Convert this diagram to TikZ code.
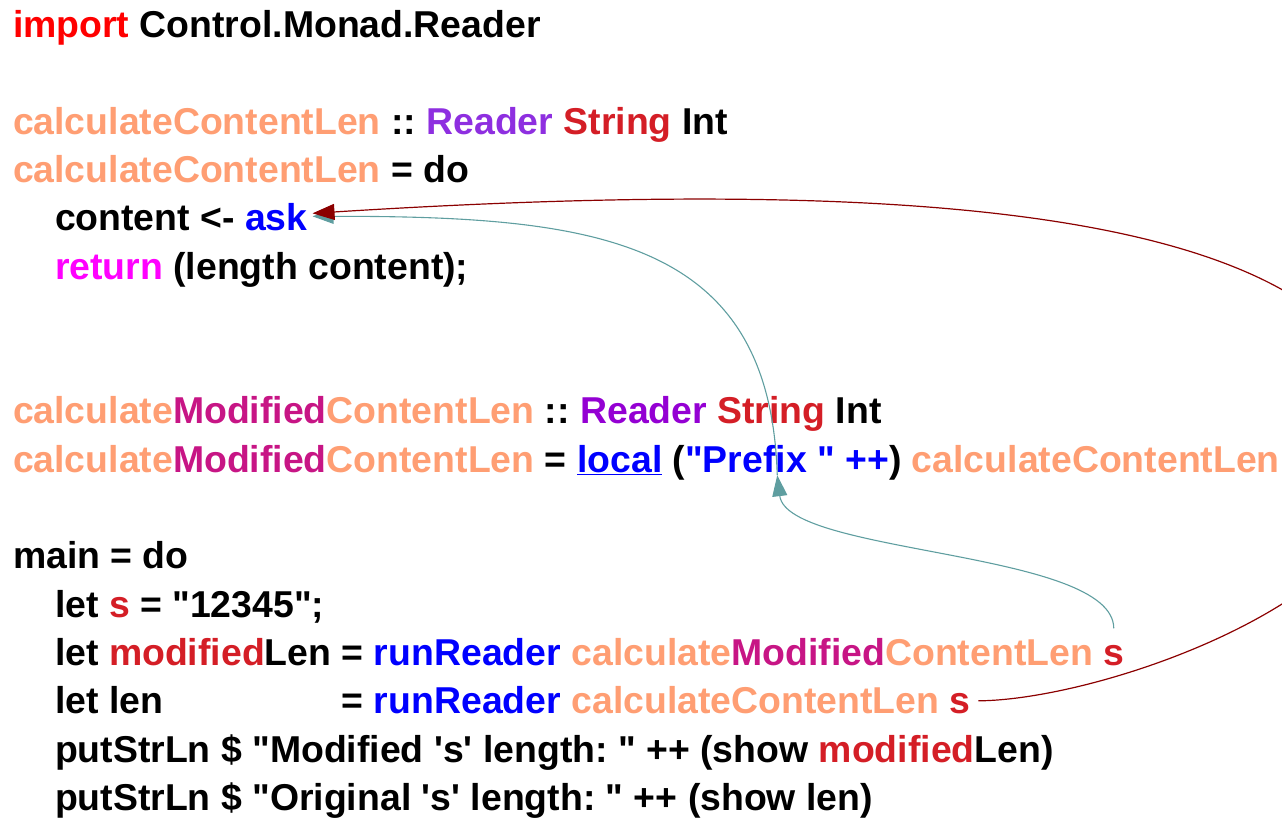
\documentclass[tikz,border=0pt]{standalone}
\usepackage{fontspec}
\setmainfont{Liberation Sans}[Ligatures=TeXOff]
\usetikzlibrary{arrows.meta,calc}
\definecolor{salmonc}{HTML}{FF9E73}
\definecolor{importred}{HTML}{FF0000}
\definecolor{readerA}{HTML}{8E2FE0}
\definecolor{readerB}{HTML}{9400D3}
\definecolor{strred}{HTML}{D41E26}
\definecolor{modc}{HTML}{C71585}
\definecolor{bluec}{HTML}{0000FF}
\definecolor{magc}{HTML}{FF00FF}
\definecolor{tealc}{HTML}{5F9EA0}
\definecolor{darkredc}{HTML}{8B0000}
\newcommand\wsp{\hspace*{\fontdimen2\font}}
\newcommand\ccl{{\color{salmonc}calculateContentLen}}
\newcommand\cmcl{{\color{salmonc}calculate}{\color{modc}Modified}{\color{salmonc}ContentLen}}
\tikzset{
  code/.style={anchor=base west, inner sep=0pt, outer sep=0pt,
    font=\fontsize{37.4}{44}\selectfont\bfseries},
  tealconn/.style={draw=tealc, line width=1.1pt,
    -{Triangle[length=21pt,width=15pt]}, fill=none},
  redconn/.style={draw=darkredc, line width=1.2pt,
    -{Triangle[length=22pt,width=16pt]}, fill=none}
}
\begin{document}
\begin{tikzpicture}[x=1pt,y=-1pt]
\useasboundingbox (0,0) rectangle (1282,817);
% line 0
\node[code] (l0) at (13,37.5) {{\color{importred}import}\wsp Control.Monad.Reader};
% line 2
\node[code] (l2) at (13,134.1) {\ccl\wsp ::\wsp{\color{readerA}Reader}\wsp{\color{strred}String}\wsp Int};
% line 3
\node[code] (l3) at (13,182.4) {\ccl\wsp =\wsp do};
% line 4
\node[code] (l4) at (55,230.7) {content\wsp <-\wsp};
\node[code, text=bluec] (ask) at (l4.base east) {ask};
% line 5
\node[code] (l5) at (55,279) {{\color{magc}return}\wsp(length\wsp content);};
% line 8
\node[code] (l8) at (13,423.9) {\cmcl\wsp ::\wsp{\color{readerB}Reader}\wsp{\color{strred}String}\wsp Int};
% line 9
\node[code] (l9) at (13,472.2) {\cmcl\wsp =\wsp{\color{bluec}\underline{local}}\wsp(};
\node[code, text=bluec] (prefix) at (l9.base east) {"Prefix\wsp"\wsp++};
\node[code] (l9b) at (prefix.base east) {)\wsp\ccl};
% line 11
\node[code] (l11) at (13,568.8) {main\wsp =\wsp do};
% line 12
\node[code] (l12) at (55,617.1) {let\wsp{\color{strred}s}\wsp =\wsp"12345";};
% line 13
\node[code] (l13) at (55,665.4) {let\wsp{\color{strred}modified}Len\wsp =\wsp{\color{bluec}runReader}\wsp\cmcl\wsp};
\node[code, text=strred] (smod) at (l13.base east) {s};
% line 14
\node[code] (l14) at (55,713.7) {\rlap{let\wsp len}\phantom{let\wsp modifiedLen\wsp}=\wsp{\color{bluec}runReader}\wsp\ccl\wsp};
\node[code, text=strred] (slen) at (l14.base east) {s};
% line 15
\node[code] (l15) at (55,762) {putStrLn\wsp\$\wsp"Modified\wsp's'\wsp length:\wsp"\wsp++\wsp(show\wsp{\color{strred}modified}Len)};
% line 16
\node[code] (l16) at (55,810.3) {putStrLn\wsp\$\wsp"Original\wsp's'\wsp length:\wsp"\wsp++\wsp(show\wsp len)};
% connector anchor points
\coordinate (smodtop) at ([yshift=17pt]smod.north);
\coordinate (ptip) at ($(prefix.base west)+(92,3)$);
\coordinate (asktipT) at ([xshift=5pt,yshift=1pt]ask.east);
\coordinate (asktipR) at ([xshift=5pt,yshift=4pt]ask.east);
\coordinate (slenend) at ([xshift=8pt,yshift=3pt]slen.east);
% connectors
\draw[tealconn] (smodtop) .. controls (1113,550) and (787,555) .. (ptip);
\draw[tealconn] (ptip) .. controls (770,240) and (600,216) .. (asktipT);
\draw[redconn] (slenend) .. controls (1100,700) and (1392,600) .. (1392,457)
  .. controls (1392,225) and (1000,170) .. (asktipR);
\end{tikzpicture}
\end{document}
